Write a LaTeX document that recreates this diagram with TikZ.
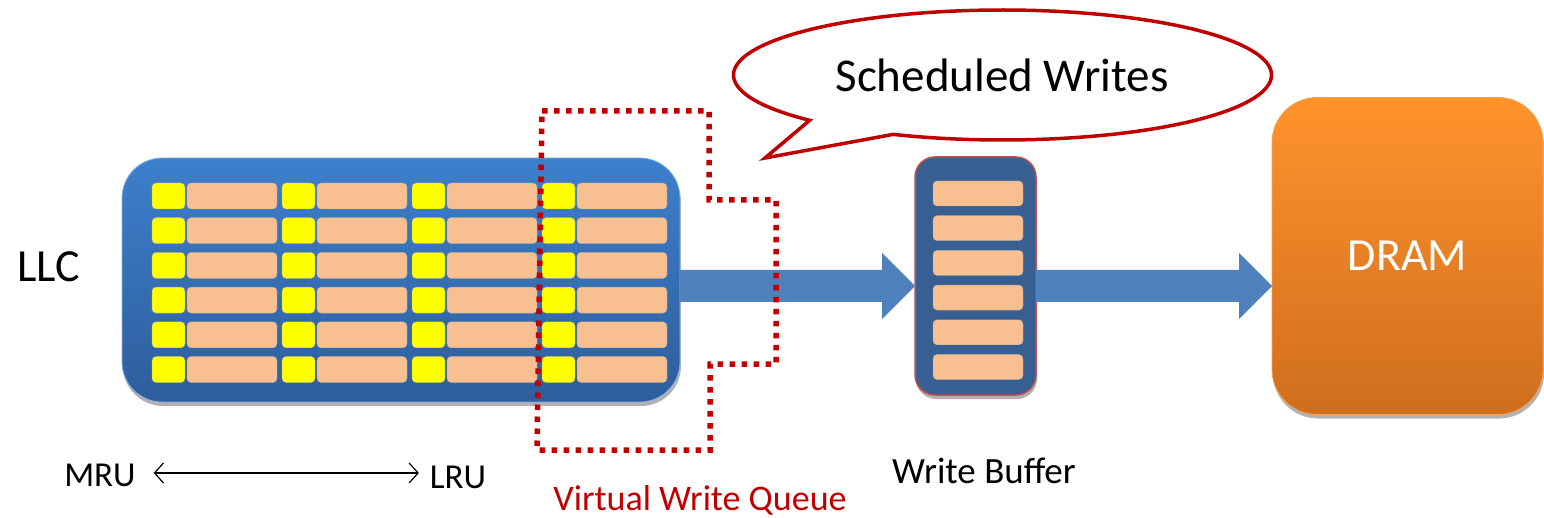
\documentclass[tikz,border=0pt]{standalone}
\usepackage{fontspec}
\setmainfont{Carlito}
\usetikzlibrary{arrows.meta,shadows,calc}

\definecolor{llctop}{HTML}{3D7FCC}
\definecolor{llcbot}{HTML}{2E5E9C}
\definecolor{cellyel}{HTML}{FFFF00}
\definecolor{cellpink}{HTML}{F8C090}
\definecolor{cellrim}{HTML}{A8A8A0}
\definecolor{flowblue}{HTML}{4F81BD}
\definecolor{wbfill}{HTML}{375F91}
\definecolor{wbrim}{HTML}{C0504D}
\definecolor{dramtop}{HTML}{FF932C}
\definecolor{drambot}{HTML}{D06E1E}
\definecolor{dramrim}{HTML}{F8A050}
\definecolor{vwqred}{HTML}{C00000}

\tikzset{
  every node/.style={inner sep=0pt, outer sep=0pt},
  softshadow/.style={drop shadow={shadow xshift=1pt, shadow yshift=-4pt, opacity=0.3, fill=black}},
  cachebox/.style={rounded corners=40pt, top color=llctop, bottom color=llcbot,
    draw=llctop!60!white, line width=0.8pt, minimum width=558pt, minimum height=244pt, softshadow},
  bufbox/.style={rounded corners=20pt, fill=wbfill, draw=wbrim, line width=1.5pt,
    minimum width=121pt, minimum height=238pt, softshadow},
  drambox/.style={rounded corners=45pt, top color=dramtop, bottom color=drambot,
    draw=dramrim, line width=0.8pt, minimum width=271pt, minimum height=317pt, softshadow,
    text=white, font=\fontsize{46}{50}\selectfont},
  tagcell/.style={fill=cellyel, draw=cellrim, line width=0.4pt, rounded corners=4pt},
  datacell/.style={fill=cellpink, draw=cellrim, line width=0.4pt, rounded corners=4pt},
  queueline/.style={draw=vwqred, line width=5.5pt, dash pattern=on 5.5pt off 6.5pt},
  calloutline/.style={draw=vwqred, line width=3.5pt, fill=white, line join=miter},
  label/.style={anchor=base, text=black},
  lrutip/.tip={Straight Barb[length=9pt, width=20pt, line width=1.2pt]},
}

\begin{document}
\begin{tikzpicture}[x=1pt, y=-1pt]
\useasboundingbox (0,0) rectangle (1544,518);

% last-level cache array
\node[cachebox] (llc) at (401,280) {};
\foreach \r in {0,...,5}{
  \foreach \g in {0,...,3}{
    \path[tagcell]  ({152+130*\g},{183+34.7*\r}) rectangle ++(33,26);
    \path[datacell] ({187+130*\g},{183+34.7*\r}) rectangle ++(90,26);
  }
}

% write buffer and DRAM
\node[bufbox] (wb) at (975.5,276) {};
\foreach \r in {0,...,5}{
  \path[datacell] (933,{181+34.7*\r}) rectangle ++(90,25);
}
\node[drambox] (dram) at (1407.5,256) {DRAM};

% block arrows: cache -> write buffer -> DRAM
\fill[flowblue] let \p1=([yshift=-6pt]llc.east), \p2=(wb.west) in
  (\x1,\y1+16pt) -- (\x2-33pt,\y1+16pt) -- (\x2-33pt,\y1+33pt) -- (\x2,\y1)
  -- (\x2-33pt,\y1-33pt) -- (\x2-33pt,\y1-16pt) -- (\x1,\y1-16pt) -- cycle;
\fill[flowblue] let \p1=([yshift=-6pt]llc.east), \p2=(wb.east), \p3=(dram.west) in
  (\x2,\y1+16pt) -- (\x3-33pt,\y1+16pt) -- (\x3-33pt,\y1+33pt) -- (\x3,\y1)
  -- (\x3-33pt,\y1-33pt) -- (\x3-33pt,\y1-16pt) -- (\x2,\y1-16pt) -- cycle;

% virtual write queue outline
\draw[queueline] (542,111) -- (709,111) -- (709,200) -- (776,200) -- (776,364)
  -- (710,364) -- (710,450) -- (537,450) -- cycle;

% speech callout
\draw[calloutline] plot[domain=114:-224.2, samples=240]
  ({1002.5+269*cos(\x)},{75+65*sin(\x)}) -- (765,158) -- cycle;
\node[label, font=\fontsize{47}{50}\selectfont] (sched) at (1002,92) {Scheduled Writes};

% labels
\node[label, font=\fontsize{46}{50}\selectfont] (llclabel) at (49,282) {LLC};
\node[label, font=\fontsize{37}{40}\selectfont] (wblabel) at (984,483) {Write Buffer};
\node[label, text=vwqred, font=\fontsize{36}{40}\selectfont] (vwqlabel) at (700,510) {Virtual Write Queue};
\node[label, font=\fontsize{35}{38}\selectfont] (mru) at (100,486) {MRU};
\node[label, font=\fontsize{35}{38}\selectfont] (lru) at (458,488) {LRU};

% recency direction
\draw[line width=1.2pt, lrutip-lrutip, shorten <=18pt, shorten >=11pt]
  ([yshift=13pt]mru.base east) -- ([yshift=15pt]lru.base west);
\end{tikzpicture}
\end{document}
